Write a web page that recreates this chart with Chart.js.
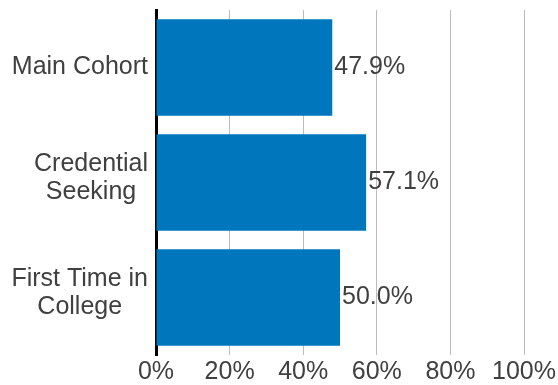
<!DOCTYPE html>
<html>
<head>
<meta charset="utf-8">
<script src="https://cdn.jsdelivr.net/npm/chart.js@4"></script>
<style>
  html, body { margin: 0; padding: 0; background: #fff; }
  #wrap { width: 558px; height: 385px; }
</style>
</head>
<body>
<div id="wrap"><canvas id="mycanvas" width="558" height="385"></canvas></div>
<script>
var categories = [["Main Cohort"], ["Credential", "Seeking"], ["First Time in", "College"]];
var rates = [47.9, 57.1, 50.0];
var tickValues = [0, 20, 40, 60, 80, 100];

var textColor = "#404040";
var fontFamily = "'Liberation Sans', Arial, sans-serif";
var fontSize = 25;
var lineGap = 28;

// category names: block is right aligned, lines inside it centred
var categoryLabels = {
  id: "categoryLabels",
  afterDraw: function(chart) {
    var ctx = chart.ctx;
    var yScale = chart.scales.y;
    var right = yScale.right - 8;
    ctx.save();
    ctx.font = fontSize + "px " + fontFamily;
    ctx.fillStyle = textColor;
    ctx.textAlign = "center";
    ctx.textBaseline = "middle";
    categories.forEach(function(lines, i) {
      var w = 0;
      lines.forEach(function(t) { w = Math.max(w, ctx.measureText(t).width); });
      var cx = right - w / 2;
      var cy = yScale.getPixelForTick(i);
      if (lines.length > 1) cy -= 4;
      var y0 = cy - (lines.length - 1) * lineGap / 2;
      lines.forEach(function(t, k) {
        ctx.fillText(t, cx, y0 + k * lineGap);
      });
    });
    ctx.restore();
  }
};

// writes the percentage just past the end of each bar
var valueLabels = {
  id: "valueLabels",
  afterDatasetsDraw: function(chart) {
    var ctx = chart.ctx;
    var meta = chart.getDatasetMeta(0);
    ctx.save();
    ctx.font = fontSize + "px " + fontFamily;
    ctx.fillStyle = textColor;
    ctx.textAlign = "left";
    ctx.textBaseline = "middle";
    meta.data.forEach(function(bar, i) {
      ctx.fillText(rates[i].toFixed(1) + "%", bar.x + 2, bar.y);
    });
    ctx.restore();
  }
};

var ctx = document.getElementById("mycanvas");

var barChart = new Chart(ctx, {
  type: "bar",
  data: {
    labels: categories,
    datasets: [{
      data: rates,
      backgroundColor: "#0077bd",
      borderWidth: 0,
      barPercentage: 0.84,
      categoryPercentage: 1.0
    }]
  },
  options: {
    indexAxis: "y",
    responsive: false,
    animation: false,
    layout: { padding: { top: 10, right: 34, left: 0, bottom: 0 } },
    plugins: { legend: { display: false }, tooltip: { enabled: false } },
    scales: {
      x: {
        min: 0,
        max: 100,
        afterBuildTicks: function(axis) {
          axis.ticks = tickValues.map(function(v) { return { value: v }; });
        },
        afterFit: function(axis) {
          axis.height = 30;
          axis.paddingRight = 0;
        },
        grid: { color: "#bcbcbc", lineWidth: 1, drawTicks: false },
        border: { display: false },
        ticks: {
          padding: 2,
          color: textColor,
          font: { family: fontFamily, size: fontSize },
          maxRotation: 0,
          callback: function(v) { return v + "%"; }
        }
      },
      y: {
        grid: { display: false, drawTicks: false },
        border: { display: true, color: "#000", width: 3 },
        afterFit: function(axis) {
          axis.width = 156;
          axis.paddingTop = 0;
          axis.paddingBottom = 0;
        },
        ticks: { display: false }
      }
    }
  },
  plugins: [valueLabels, categoryLabels]
});
</script>
</body>
</html>
